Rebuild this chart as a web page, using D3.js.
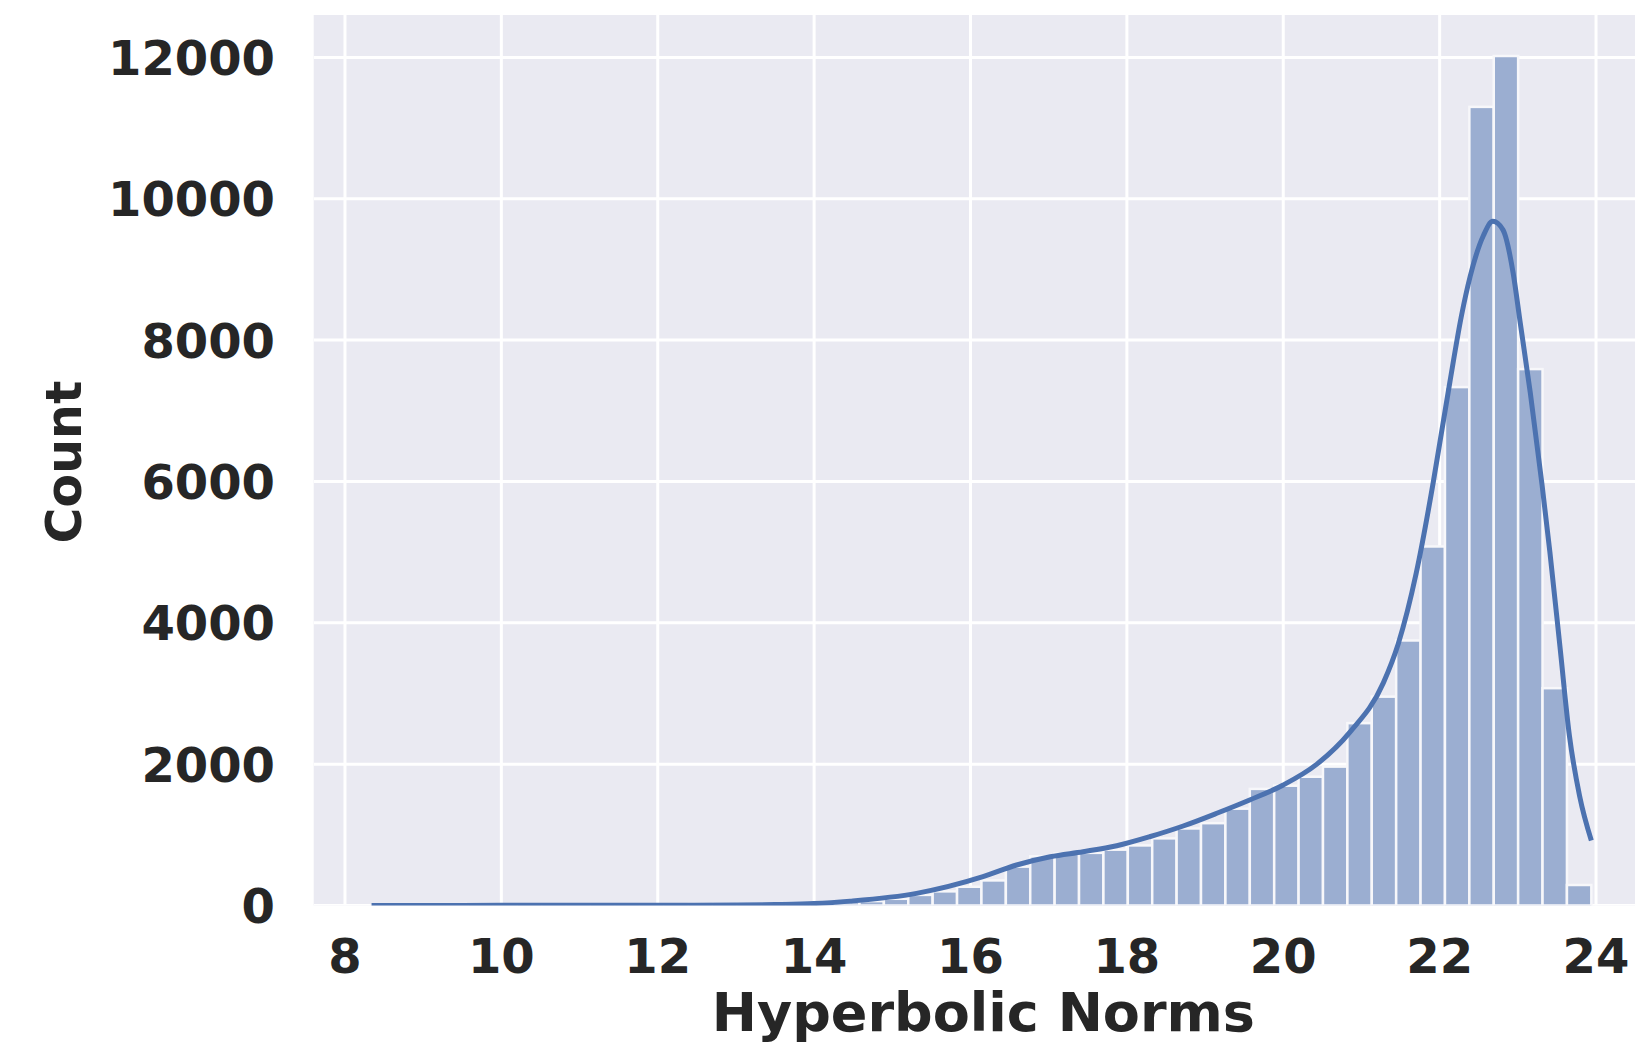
<!DOCTYPE html>
<html>
<head>
<meta charset="utf-8">
<script src="https://cdn.jsdelivr.net/npm/d3@7"></script>
<style>
  body { margin: 0; background: #fff; }
  text { font-family: "DejaVu Sans", sans-serif; font-weight: bold; fill: #262626; }
</style>
</head>
<body>
<div id="chart"></div>
<script>
// histogram: 50 equal bins between binLo and binHi
var binLo = 8.34, binHi = 23.94;
var counts = [4, 3, 5, 4, 6, 5, 7, 8, 9, 10,
	12, 14, 16, 19, 22, 26, 30, 36, 42, 50,
	62, 95, 150, 200, 265, 355, 550, 695, 735, 745,
	790, 850, 950, 1090, 1165, 1370, 1650, 1695, 1822, 1965,
	2580, 2955, 3750, 5080, 7335, 11300, 12020, 7590, 3075, 290];

// kde curve
var kdeX = [8.34, 9.0, 10.0, 11.0, 12.0, 13.0, 13.5, 14.0, 14.46, 15.31,
	16.16, 16.59, 17.02, 17.44, 17.87, 18.29, 18.72, 19.15, 19.57, 20.0,
	20.43, 20.85, 21.28, 21.47, 21.70, 21.92, 22.04, 22.13, 22.28, 22.39,
	22.56, 22.68, 22.81, 22.94, 23.03, 23.16, 23.31, 23.41, 23.54, 23.66,
	23.79, 23.94];
var kdeY = [1, 1, 2, 3, 4, 7, 13, 27, 62, 172,
	408, 573, 690, 761, 846, 973, 1125, 1305, 1493, 1705,
	2000, 2450, 3150, 3700, 4700, 6000, 6800, 7400, 8350, 8900,
	9480, 9680, 9560, 8950, 8250, 7250, 5950, 5000, 3650, 2400,
	1550, 920];

var xTicks = [8, 10, 12, 14, 16, 18, 20, 22, 24];
var yTicks = [0, 2000, 4000, 6000, 8000, 10000, 12000];

// magic numbers
var W = 1635, H = 1044;
var plot = {left: 313.7, right: 1653.1, top: 15, bottom: 905.5};

var svg = d3.select("#chart").append("svg")
		.attr("width", W)
		.attr("height", H);

var xScale = d3.scaleLinear()
		.domain([7.6, 24.73])
		.range([plot.left, plot.right]);

var yScale = d3.scaleLinear()
		.domain([0, 12600])
		.range([plot.bottom, plot.top]);

svg.append("defs").append("clipPath")
		.attr("id", "clip")
	.append("rect")
		.attr("x", plot.left)
		.attr("y", plot.top)
		.attr("width", plot.right - plot.left)
		.attr("height", plot.bottom - plot.top);

svg.append("rect")
		.attr("x", plot.left)
		.attr("y", plot.top)
		.attr("width", plot.right - plot.left)
		.attr("height", plot.bottom - plot.top)
		.style("fill", "#eaeaf2");

// grid
var grid = svg.append("g").attr("clip-path", "url(#clip)");
grid.selectAll(".vgrid")
		.data(xTicks)
	.enter().append("line")
		.attr("x1", function(d) { return xScale(d); })
		.attr("x2", function(d) { return xScale(d); })
		.attr("y1", plot.top)
		.attr("y2", plot.bottom)
		.style("stroke", "#fff")
		.style("stroke-width", 3);
grid.selectAll(".hgrid")
		.data(yTicks)
	.enter().append("line")
		.attr("x1", plot.left)
		.attr("x2", plot.right)
		.attr("y1", function(d) { return yScale(d); })
		.attr("y2", function(d) { return yScale(d); })
		.style("stroke", "#fff")
		.style("stroke-width", 3);

// bars
var binW = (binHi - binLo) / counts.length;
var bins = counts.map(function(c, i) {
	return {x0: binLo + i * binW, x1: binLo + (i + 1) * binW, n: c};
});

var bars = svg.append("g").attr("clip-path", "url(#clip)");
bars.selectAll("rect")
		.data(bins)
	.enter().append("rect")
		.attr("x", function(d) { return xScale(d.x0); })
		.attr("width", function(d) { return xScale(d.x1) - xScale(d.x0); })
		.attr("y", function(d) { return yScale(d.n); })
		.attr("height", function(d) { return yScale(0) - yScale(d.n); })
		.style("fill", "#9baed1")
		.style("stroke", "#f7f7fa")
		.style("stroke-width", 2.5);

// kde
var line = d3.line()
		.x(function(d) { return xScale(d[0]); })
		.y(function(d) { return yScale(d[1]); })
		.curve(d3.curveMonotoneX);

svg.append("path")
		.datum(d3.zip(kdeX, kdeY))
		.attr("clip-path", "url(#clip)")
		.attr("d", line)
		.style("fill", "none")
		.style("stroke", "#4c72b0")
		.style("stroke-width", 5);

// tick labels
svg.selectAll(".xlab")
		.data(xTicks)
	.enter().append("text")
		.attr("x", function(d) { return xScale(d); })
		.attr("y", 973)
		.attr("text-anchor", "middle")
		.style("font-size", "48px")
		.text(function(d) { return d; });

svg.selectAll(".ylab")
		.data(yTicks)
	.enter().append("text")
		.attr("x", 275)
		.attr("y", function(d) { return yScale(d) + 17.5; })
		.attr("text-anchor", "end")
		.style("font-size", "48px")
		.text(function(d) { return d; });

// axis titles
svg.append("text")
		.attr("x", (plot.left + plot.right) / 2)
		.attr("y", 1031)
		.attr("text-anchor", "middle")
		.style("font-size", "54px")
		.text("Hyperbolic Norms");

svg.append("text")
		.attr("transform", "translate(81, 462) rotate(-90)")
		.attr("text-anchor", "middle")
		.style("font-size", "49px")
		.text("Count");
</script>
</body>
</html>
